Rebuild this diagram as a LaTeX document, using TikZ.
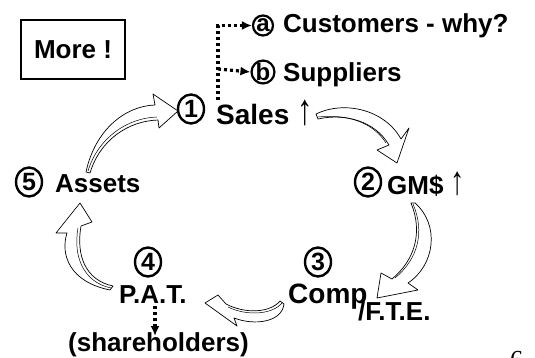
\documentclass[tikz,border=0pt]{standalone}
\usepackage{fontspec}
\setmainfont{Liberation Sans}
\newfontfamily\serf{Liberation Serif}
\usetikzlibrary{shapes.geometric,arrows.meta}
\newcommand{\uparr}{{\mdseries\scalebox{1.1}[1.55]{↑}}}
\begin{document}
\begin{tikzpicture}[x=1pt,y=-1pt,
  lbl/.style={font=\bfseries\fontsize{26}{26}\selectfont, inner sep=0pt, anchor=base west},
  big/.style={font=\bfseries\fontsize{28}{28}\selectfont},
  num/.style={ellipse, draw, line width=2.4pt, minimum width=26pt, minimum height=29pt, inner sep=0pt, font=\bfseries\fontsize{25}{25}\selectfont},
  letc/.style={circle, draw, line width=2.2pt, minimum size=20pt, inner sep=0pt, font=\bfseries\fontsize{24}{24}\selectfont},
  dots/.style={line width=3.2pt, dash pattern=on 3pt off 3pt, -{Latex[length=10pt,width=9pt]}},
  harrow/.style={draw=black, fill=white, line width=0.7pt, line join=round},
  hin/.style={draw=black, line width=0.5pt}]
\useasboundingbox (0,0) rectangle (535,358);
% box
\node[draw, line width=2.6pt, minimum width=104pt, minimum height=59pt, inner sep=0pt,
  font=\bfseries\fontsize{26}{26}\selectfont] (more) at (73,49.5) {More !};
% circled letters and labels
\node[letc] (ca) at (263,25.5) {a};
\node[lbl] (cust) at (283,33) {Customers - why?};
\node[letc] (cb) at (263,72) {b};
\node[lbl] (supp) at (283,82) {Suppliers};
% numbered items
\node[num] (n1) at (191,109) {1};
\node[lbl, big] (sales) at (216,125) {Sales \uparr};
\node[num] (n2) at (368,182) {2};
\node[lbl] (gm) at (387,195) {GM\$ \uparr};
\node[num] (n3) at (318,262) {3};
\node[lbl, big] (comp) at (288,303) {Comp};
\node[lbl] (fte) at (358,320) {/F.T.E.};
\node[num] (n4) at (148,262) {4};
\node[lbl] (pat) at (119,303) {P.A.T.};
\node[lbl] (share) at (68,351) {(shareholders)};
\node[num] (n5) at (29,182) {5};
\node[lbl] (assets) at (55,193) {Assets};
% clipped page number
\node[inner sep=0pt, anchor=north west, font=\serf\fontsize{26}{26}\selectfont] (pg) at (510,351) {6};
% dotted connectors
\coordinate (d0) at (218,100);
\coordinate (dm) at (218,69);
\draw[dots] (d0) |- (ca.west);
\draw[dots] (dm) -- (cb.west);
\coordinate (p0) at (155,306);
\coordinate (p1) at (155,336);
\draw[dots] (p0) -- (p1);
% hollow curved arrows
% 1: Assets -> Sales
\draw[harrow] (86,172) .. controls (95,130) and (125,106) .. (155,105) -- (153,94) -- (178,111) -- (159,128) -- (158,120) .. controls (128,121) and (100,140) .. (90,173) -- cycle;
\draw[hin] (157,117) .. controls (127,118) and (98,138) .. (88,171);
% 2: Sales -> GM$
\draw[harrow] (316,114) .. controls (345,100) and (385,110) .. (401,139) -- (409,128) -- (397,163) -- (377,150) -- (389,145) .. controls (375,121) and (345,113) .. (318,119) -- cycle;
\draw[hin] (386,143) .. controls (372,121) and (345,114) .. (318,117);
% 3: GM$ -> Comp/FTE
\draw[harrow] (415,203) .. controls (440,225) and (435,265) .. (408,283) -- (418,290) -- (377,298) -- (381,273) -- (392,279) .. controls (415,260) and (423,232) .. (411,203) -- cycle;
\draw[hin] (395,278) .. controls (418,259) and (425,232) .. (413,204);
% 4: Comp -> PAT
\draw[harrow] (284,304) .. controls (282,322) and (255,326) .. (234,318) -- (237,326) -- (205,303) -- (218,295) -- (226,304) .. controls (245,314) and (270,313) .. (280,301) -- cycle;
\draw[hin] (228,307) .. controls (246,316) and (272,315) .. (282,303);
% 5: PAT -> Assets
\draw[harrow] (110,290) .. controls (70,282) and (60,255) .. (67,233) -- (56,233) -- (80,203) -- (92,222) -- (81,226) .. controls (76,255) and (85,280) .. (113,286) -- cycle;
\draw[hin] (78,228) .. controls (73,256) and (83,282) .. (111,288);
\end{tikzpicture}
\end{document}
